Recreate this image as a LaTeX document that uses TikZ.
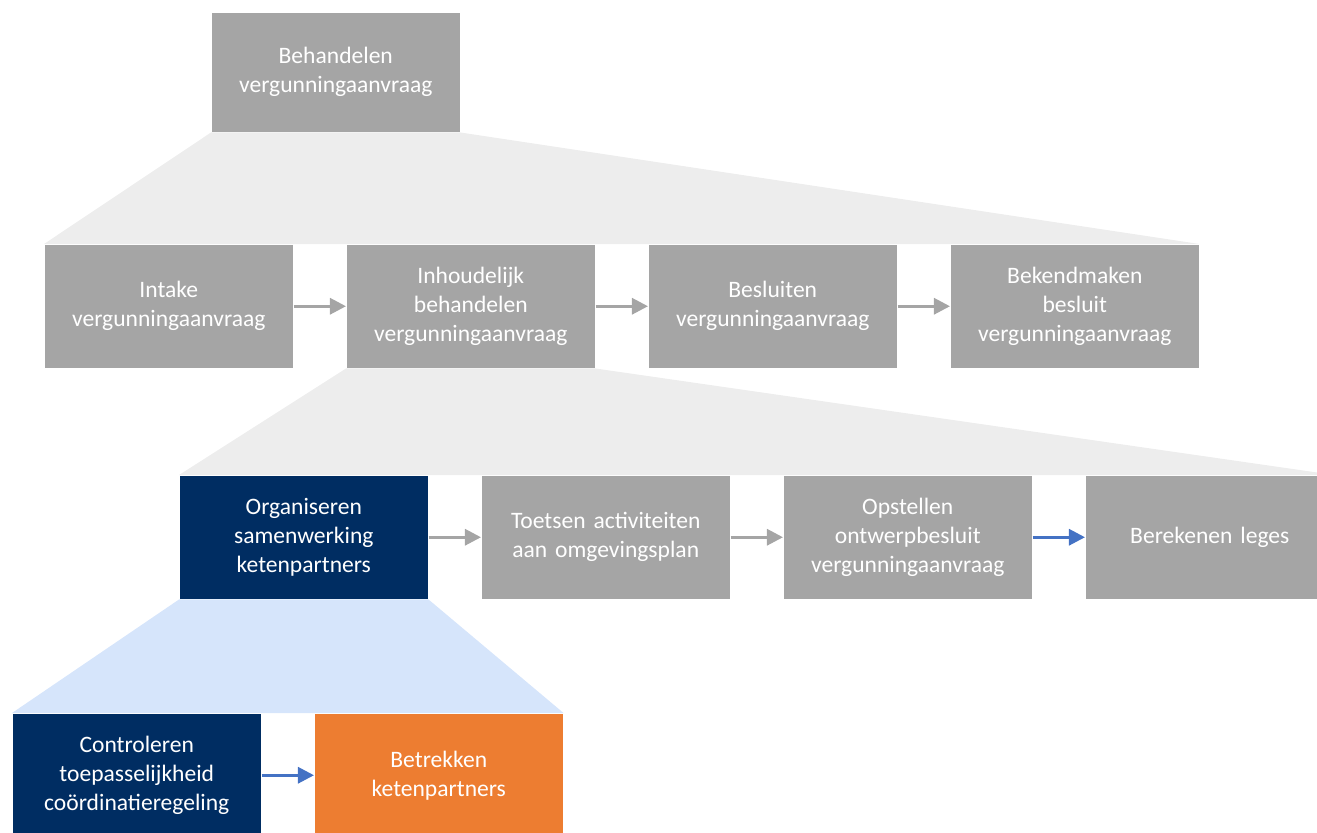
\documentclass[tikz,border=0pt]{standalone}
\usepackage{fontspec}
\setmainfont{Carlito}
\usetikzlibrary{arrows.meta}
\definecolor{stepgray}{HTML}{A5A5A5}
\definecolor{stepnavy}{HTML}{002D62}
\definecolor{steporange}{HTML}{ED7D31}
\definecolor{zoomgray}{HTML}{EDEDED}
\definecolor{zoomblue}{HTML}{D6E5FB}
\definecolor{flowblue}{HTML}{4472C4}
\begin{document}
\begin{tikzpicture}[x=0.01cm,y=-0.01cm,
every node/.style={anchor=north west, inner sep=0pt, align=center,
	text width=2.3cm, minimum width=2.48cm, minimum height=1.23cm,
	text=white, font=\fontsize{6.7}{8.25}\selectfont},
box/.style={fill=stepgray},
dark/.style={fill=stepnavy},
hot/.style={fill=steporange},
flow/.style={draw=stepgray, line width=0.03cm, -{Triangle[length=0.16cm,width=0.16cm]}},
flowb/.style={flow, draw=flowblue}]
\useasboundingbox (0,0) rectangle (1317,832);
\clip (0,0) rectangle (1317,832);

%levels of the process
\node[box, minimum height=1.19cm](e) at (211,12) {Behandelen\\vergunningaanvraag};

\node[box](1) at (44,244) {Intake\\vergunningaanvraag};
\node[box](2) at (346,244) {Inhoudelijk\\behandelen\\vergunningaanvraag};
\node[box](3) at (648,244) {Besluiten\\vergunningaanvraag};
\node[box](4) at (950,244) {Bekendmaken\\besluit\\vergunningaanvraag};

\node[dark](21) at (179,475) {Organiseren\\samenwerking\\ketenpartners};
\node[box](22) at (481,475) {Toetsen activiteiten\\aan omgevingsplan};
\node[box](23) at (783,475) {Opstellen\\ontwerpbesluit\\vergunningaanvraag};
\node[box](24) at (1085,475) {Berekenen leges};

\node[dark](211) at (12,713) {Controleren\\toepasselijkheid\\coördinatieregeling};
\node[hot](212) at (314,713) {Betrekken\\ketenpartners};

%zoom areas between the levels
\fill[zoomgray] (e.south west) -- (e.south east) -- (4.north east) -- (1.north west) -- cycle;
\fill[zoomgray] (2.south west) -- (2.south east) -- (24.north east) -- (21.north west) -- cycle;
\fill[zoomblue] (21.south west) -- (21.south east) -- (212.north east) -- (211.north west) -- cycle;

%arrows in each level
\draw[flow] (1) -- (2);
\draw[flow] (2) -- (3);
\draw[flow] (3) -- (4);
\draw[flow] (21) -- (22);
\draw[flow] (22) -- (23);
\draw[flowb] (23) -- (24);
\draw[flowb] (211) -- (212);
\end{tikzpicture}
\end{document}
